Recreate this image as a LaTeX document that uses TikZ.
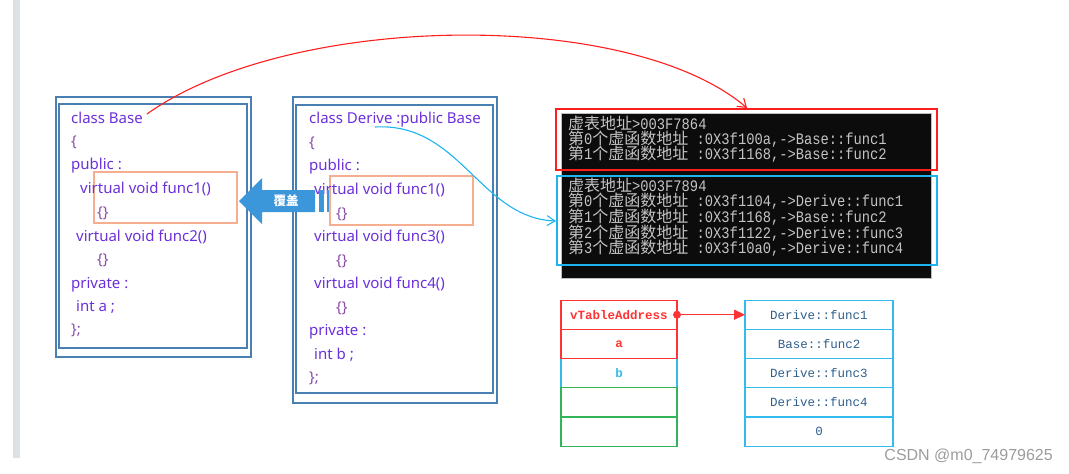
\documentclass[tikz,border=0pt]{standalone}
\usepackage{fontspec}
\setmainfont{Noto Sans}
\newfontfamily\cjkf{Noto Sans CJK SC}
\newfontfamily\monof{Liberation Mono}
\newfontfamily\consf[FakeStretch=0.86]{Liberation Mono}
\newfontfamily\wmf{Liberation Sans}
\usetikzlibrary{arrows.meta}
\definecolor{bgbar}{HTML}{DDE0E4}
\definecolor{boxblue}{HTML}{4A7FB3}
\definecolor{orangebox}{HTML}{F5AE90}
\definecolor{codepurple}{HTML}{6A30DA}
\definecolor{bracepurple}{HTML}{8A4FA8}
\definecolor{arrowblue}{HTML}{3B97D9}
\definecolor{redline}{HTML}{FF1E1E}
\definecolor{cyanline}{HTML}{1EB4F0}
\definecolor{consolebg}{HTML}{0C0C0C}
\definecolor{consoletext}{HTML}{C4C4C4}
\definecolor{tabred}{HTML}{FF3333}
\definecolor{tabblue}{HTML}{33BBEE}
\definecolor{tabgreen}{HTML}{33B35A}
\definecolor{tabtext}{HTML}{2E5E8C}
\definecolor{wmgray}{HTML}{9C9C9C}
\newcommand\cdfont{\fontsize{15}{16}\selectfont}
\newcommand\cnsfont{\fontsize{16}{16}\consf\selectfont}
\newcommand\cjkc[1]{{\fontsize{16}{16}\cjkf\selectfont #1}}
\tikzset{
  rectbox/.style={draw, inner sep=0pt, outer sep=0pt},
  classbox/.style={rectbox, draw=boxblue, line width=1.4pt},
  hilite/.style={rectbox, draw=orangebox, line width=1.4pt},
  code/.style={anchor=base west, inner sep=0pt, text=codepurple, font=\cdfont},
  brace/.style={code, text=bracepurple},
  cline/.style={anchor=base west, inner sep=0pt, text=consoletext, font=\cnsfont},
  cell/.style={rectbox, line width=1.2pt, minimum height=29.2pt, font=\fontsize{12.5}{12}\monof\selectfont},
  lcell/.style={cell, minimum width=116pt},
  rcell/.style={cell, minimum width=148pt, draw=tabblue, text=tabtext},
}
\begin{document}
\begin{tikzpicture}[x=1pt,y=-1pt]
\useasboundingbox (0,0) rectangle (1069,474);
\fill[bgbar] (13,0) rectangle (20,458);

% Base class box
\node[classbox, minimum width=195pt, minimum height=260pt] (baseouter) at (153.5,227) {};
\node[classbox, minimum width=188pt, minimum height=244pt] (baseinner) at (153,226) {};
\node[hilite, minimum width=143pt, minimum height=51pt] (basehl) at (165.5,197.5) {};
\node[code] (bt) at (71,123) {class Base};
\node[brace] (b2) at (71,146) {\{};
\node[code] (b3) at (71,169) {public :};
\node[code] (b4) at (80,193) {virtual void func1()};
\node[brace] (b5) at (97,217) {\{\}};
\node[code] (b6) at (76,241) {virtual void func2()};
\node[brace] (b7) at (97,264) {\{\}};
\node[code] (b8) at (71,288) {private :};
\node[code] (b9) at (76,311) {int a ;};
\node[brace] (b10) at (71,334) {\};};

% Derive class box
\node[classbox, minimum width=204pt, minimum height=306pt] (derouter) at (395,250) {};
\node[classbox, minimum width=197pt, minimum height=288pt] (derinner) at (394.5,249) {};
\node[hilite, minimum width=143pt, minimum height=49pt] (derhl) at (401.5,200.5) {};
\node[code] (dt) at (309,123) {class Derive :public Base};
\node[brace] (d2) at (309,147) {\{};
\node[code] (d3) at (309,170) {public :};
\node[code] (d4) at (314,194) {virtual void func1()};
\node[brace] (d5) at (336,218) {\{\}};
\node[code] (d6) at (314,241) {virtual void func3()};
\node[brace] (d7) at (336,265) {\{\}};
\node[code] (d8) at (314,288) {virtual void func4()};
\node[brace] (d9) at (336,312) {\{\}};
\node[code] (d10) at (309,335) {private :};
\node[code] (d11) at (314,359) {int b ;};
\node[brace] (d12) at (309,382) {\};};

% override arrow
\fill[arrowblue] (239,201) -- (262,178) -- (262,190) -- (315,190) -- (315,212)
  -- (262,212) -- (262,224) -- cycle;
\fill[arrowblue] (319,190) rectangle (324,212);
\fill[arrowblue] (327,190) rectangle (329,212);
\node[inner sep=0pt, text=white, font=\fontsize{12.5}{13}\cjkf\selectfont\bfseries] (fugai) at (286,201) {覆盖};

% console
\node[rectbox, fill=consolebg, draw=black!25, line width=0.6pt, minimum width=370pt, minimum height=165pt] (console) at (746,195.5) {};
\node[rectbox, draw=redline, line width=1.4pt, minimum width=381pt, minimum height=61pt] (redbox) at (746.5,139.5) {};
\node[rectbox, draw=cyanline, line width=1.4pt, minimum width=380pt, minimum height=89pt] (bluebox) at (747,220.5) {};
\node[cline] (c1) at (568,129) {\cjkc{虚表地址}>003F7864};
\node[cline] (c2) at (568,144) {\cjkc{第}0\cjkc{个虚函数地址} :0X3f100a,->Base::func1};
\node[cline] (c3) at (568,159) {\cjkc{第}1\cjkc{个虚函数地址} :0X3f1168,->Base::func2};
\node[cline] (c4) at (568,191) {\cjkc{虚表地址}>003F7894};
\node[cline] (c5) at (568,206) {\cjkc{第}0\cjkc{个虚函数地址} :0X3f1104,->Derive::func1};
\node[cline] (c6) at (568,222) {\cjkc{第}1\cjkc{个虚函数地址} :0X3f1168,->Base::func2};
\node[cline] (c7) at (568,238) {\cjkc{第}2\cjkc{个虚函数地址} :0X3f1122,->Derive::func3};
\node[cline] (c8) at (568,253) {\cjkc{第}3\cjkc{个虚函数地址} :0X3f10a0,->Derive::func4};

% connectors from class boxes to the console
\coordinate (rs) at (147,114);
\coordinate (re) at (747,108);
\draw[redline, line width=1.1pt, -{Straight Barb[length=8pt,width=11pt]}]
  (rs) .. controls (290,12) and (630,8) .. (re);
\coordinate (bs) at (375,127);
\coordinate (be) at (556,221);
\draw[cyanline, line width=1.1pt, -{Straight Barb[length=8pt,width=10pt]}]
  (bs) .. controls (460,122) and (480,218) .. (be);

% object layout table
\node[lcell, draw=tabblue, text=tabblue] (v3) at (619,373.1) {\bfseries b};
\node[lcell, draw=tabgreen] (v4) at (619,402.3) {};
\node[lcell, draw=tabgreen] (v5) at (619,431.5) {};
\node[lcell, draw=tabred, text=tabred] (v1) at (619,314.7) {\bfseries vTableAddress};
\node[lcell, draw=tabred, text=tabred] (v2) at (619,343.9) {\bfseries a};

% vtable
\node[rcell] (r1) at (819,314.7) {Derive::func1};
\node[rcell] (r2) at (819,343.9) {Base::func2};
\node[rcell] (r3) at (819,373.1) {Derive::func3};
\node[rcell] (r4) at (819,402.3) {Derive::func4};
\node[rcell] (r5) at (819,431.5) {0};

\fill[tabred] (v1.east) circle (4pt);
\draw[tabred, line width=1.2pt, -{Triangle[length=11pt,width=10pt]}] (v1.east) -- (r1.west);

\node[anchor=east, inner sep=0pt, text=wmgray, font=\fontsize{16}{16}\wmf\selectfont] (wm) at (1053,456) {CSDN @m0\_74979625};
\end{tikzpicture}
\end{document}
